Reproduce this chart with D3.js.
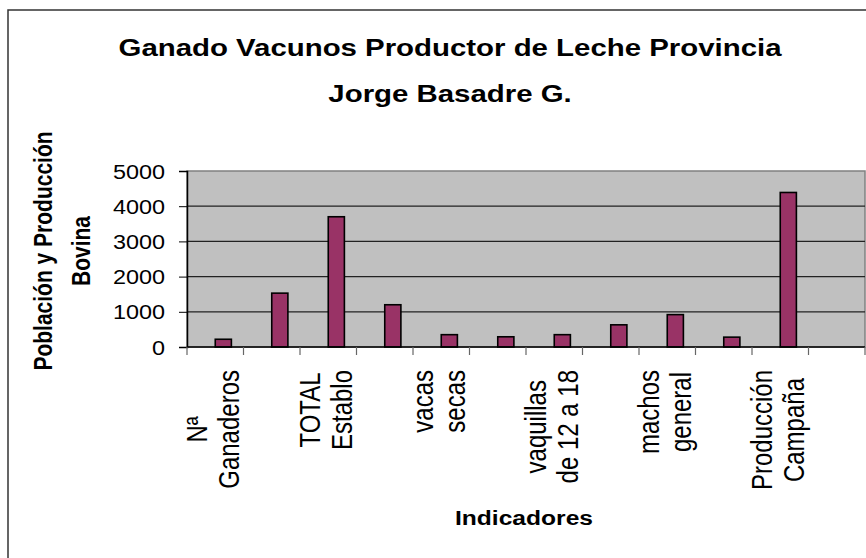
<!DOCTYPE html>
<html>
<head>
<meta charset="utf-8">
<script src="https://cdn.jsdelivr.net/npm/d3@7"></script>
<style>
  html, body { margin: 0; padding: 0; background: #ffffff; }
  svg { display: block; font-family: "Liberation Sans", Arial, sans-serif; }
</style>
</head>
<body>
<svg id="chart" width="866" height="558"></svg>
<script>
// ---- data ----
const titleLines = ["Ganado Vacunos Productor de Leche Provincia", "Jorge Basadre G."];
const yAxisTitleLines = ["Población y Producción", "Bovina"];
const xAxisTitle = "Indicadores";
// 12 categories; only every other label is shown in the reference
const categories = ["Nª\nGanaderos", "", "TOTAL\nEstablo", "", "vacas\nsecas", "",
                    "vaquillas\nde 12 a 18", "", "machos\ngeneral", "", "Producción\nCampaña", ""];
const seriesNames = ["Serie1", "Serie2"];
const serie1 = [null, null, null, null, null, null, null, null, null, null, null, null];
const serie2 = [220, 1530, 3700, 1200, 350, 290, 350, 630, 920, 280, 4390, null];
const yTicks = [0, 1000, 2000, 3000, 4000, 5000];

// ---- layout ----
const SX = 1.2; // the reference text is horizontally stretched
const svg = d3.select("#chart");
const plot = { left: 187, right: 865, top: 171, bottom: 347 };

svg.append("rect")
  .attr("x", 8).attr("y", 10).attr("width", 900).attr("height", 600)
  .attr("fill", "#ffffff").attr("stroke", "#333333").attr("stroke-width", 1.5);

const x = d3.scaleBand().domain(d3.range(categories.length))
  .range([plot.left, plot.right]).paddingInner(0).paddingOuter(0);
const xs = d3.scaleBand().domain(seriesNames)
  .range([0, x.bandwidth()]).paddingInner(0).paddingOuter(0.75);
const y = d3.scaleLinear().domain([0, 5000]).range([plot.bottom, plot.top]);

// plot background
svg.append("rect")
  .attr("x", plot.left).attr("y", plot.top)
  .attr("width", plot.right - plot.left).attr("height", plot.bottom - plot.top)
  .attr("fill", "#c0c0c0").attr("stroke", "#808080").attr("stroke-width", 1.5);

// gridlines
svg.append("g").selectAll("line")
  .data(yTicks.filter(t => t > 0 && t < 5000))
  .join("line")
  .attr("x1", plot.left).attr("x2", plot.right)
  .attr("y1", d => y(d)).attr("y2", d => y(d))
  .attr("stroke", "#222222").attr("stroke-width", 1.2);

// y axis
const yAxis = d3.axisLeft(y).tickValues(yTicks).tickSize(8).tickPadding(14).tickFormat(d3.format("d"));
const gy = svg.append("g").attr("transform", `translate(${plot.left},0)`).call(yAxis);
gy.select(".domain").attr("stroke", "#000").attr("stroke-width", 1.5);
gy.selectAll(".tick line").attr("stroke", "#000");
gy.selectAll(".tick text").attr("font-size", 19.5).attr("fill", "#000")
  .attr("font-family", "Liberation Sans, Arial, sans-serif")
  .attr("x", 0).attr("dy", "0.36em")
  .attr("transform", `translate(-22,0) scale(${SX},1)`);

// bars
const groups = svg.append("g").selectAll("g")
  .data(categories.map((c, i) => ({ i, vals: [serie1[i], serie2[i]] })))
  .join("g")
  .attr("transform", d => `translate(${x(d.i)},0)`);
groups.selectAll("rect")
  .data(d => d.vals.map((v, k) => ({ k: seriesNames[k], v })).filter(e => e.v != null))
  .join("rect")
  .attr("x", d => xs(d.k))
  .attr("width", xs.bandwidth())
  .attr("y", d => y(d.v))
  .attr("height", d => y(0) - y(d.v))
  .attr("fill", "#993366").attr("stroke", "#000").attr("stroke-width", 1.6);

// x axis line + ticks at category boundaries
svg.append("line")
  .attr("x1", plot.left).attr("x2", plot.right)
  .attr("y1", plot.bottom).attr("y2", plot.bottom)
  .attr("stroke", "#000").attr("stroke-width", 1.5);
svg.append("g").selectAll("line")
  .data(d3.range(categories.length + 1))
  .join("line")
  .attr("x1", i => plot.left + i * x.step()).attr("x2", i => plot.left + i * x.step())
  .attr("y1", plot.bottom).attr("y2", plot.bottom + 8)
  .attr("stroke", "#666").attr("stroke-width", 1.2);

// category labels (rotated, two lines centered, block top at fixed y)
const labelTop = 370;
categories.forEach((c, i) => {
  if (!c) return;
  const lines = c.split("\n");
  const cx = x(i) + x.bandwidth() / 2;
  const g = svg.append("g");
  const texts = lines.map((ln, k) => g.append("text")
    .attr("font-size", 24).attr("fill", "#000")
    .attr("text-anchor", "middle")
    .text(ln));
  const lens = texts.map(t => t.node().getComputedTextLength());
  const maxLen = d3.max(lens);
  const cy = labelTop + maxLen / 2;
  const offsets = [-8, 24];
  texts.forEach((t, k) => {
    t.attr("transform", `translate(${cx + offsets[k]},${cy}) scale(${SX},1) rotate(-90)`);
  });
});

// title
svg.append("g").selectAll("text")
  .data(titleLines).join("text")
  .attr("text-anchor", "middle").attr("font-size", 24.5).attr("font-weight", "bold")
  .attr("transform", (d, i) => `translate(450,${56 + i * 46}) scale(${SX},1)`)
  .attr("fill", "#000").text(d => d);

// y axis title
svg.append("g").selectAll("text")
  .data(yAxisTitleLines).join("text")
  .attr("text-anchor", "middle").attr("font-size", 21).attr("font-weight", "bold")
  .attr("fill", "#000")
  .attr("transform", (d, i) => `translate(${52 + i * 38},251) scale(${SX},1) rotate(-90)`)
  .text(d => d);

// x axis title
svg.append("text")
  .attr("text-anchor", "middle").attr("font-size", 20.5).attr("font-weight", "bold")
  .attr("transform", `translate(524,525) scale(${SX},1)`)
  .attr("fill", "#000").text(xAxisTitle);
</script>
</body>
</html>
